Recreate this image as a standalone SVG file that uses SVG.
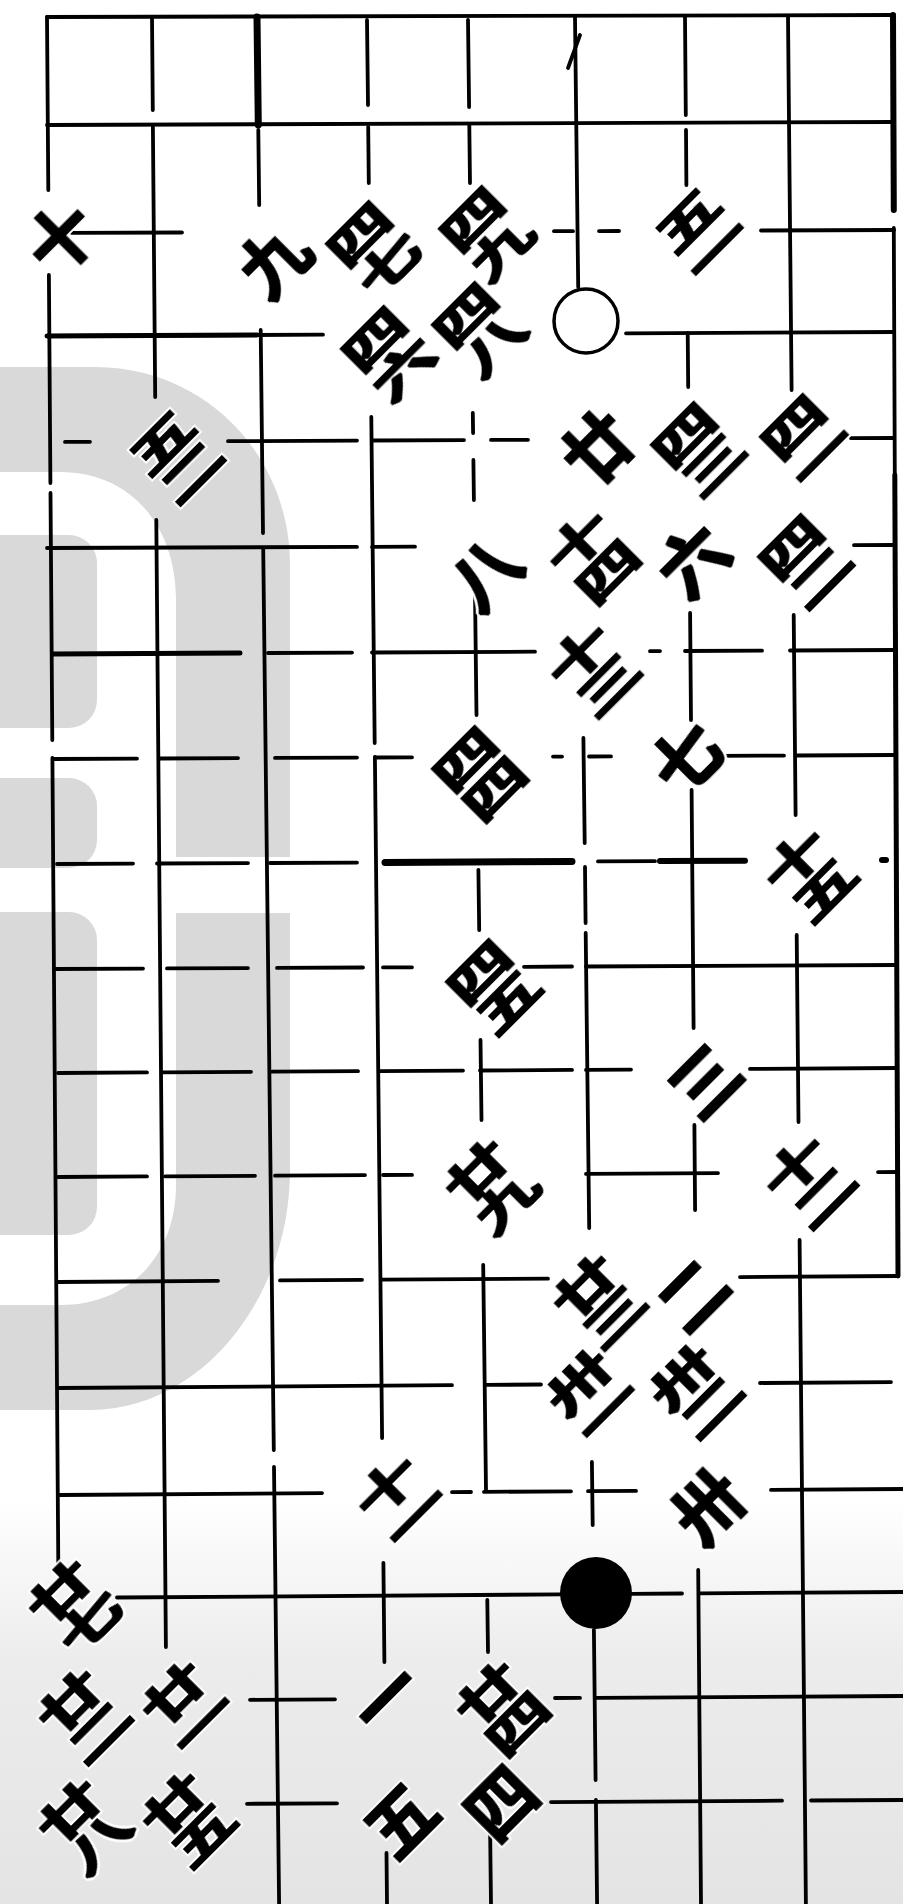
<svg xmlns="http://www.w3.org/2000/svg" width="903" height="1904" viewBox="0 0 903 1904">
<defs>
<linearGradient id="fog" x1="0" y1="0" x2="0" y2="1">
<stop offset="0" stop-color="#ececec" stop-opacity="0"/>
<stop offset="0.4" stop-color="#ececec" stop-opacity="1"/>
<stop offset="1" stop-color="#e4e4e4" stop-opacity="1"/>
</linearGradient>
<filter id="ink" x="-30%" y="-30%" width="160%" height="160%" color-interpolation-filters="sRGB">
<feMorphology in="SourceAlpha" operator="dilate" radius="3.5" result="h"/>
<feFlood flood-color="#fff"/>
<feComposite in2="h" operator="in" result="wh"/>
<feMorphology in="SourceAlpha" operator="dilate" radius="1.3" result="t"/>
<feFlood flood-color="#000"/>
<feComposite in2="t" operator="in" result="bk"/>
<feMerge><feMergeNode in="wh"/><feMergeNode in="bk"/></feMerge>
</filter>
</defs>
<style>
.g line{stroke:#000;stroke-width:3.8;stroke-linecap:round}
.g .t7{stroke-width:7}
.g .t6{stroke-width:6}
.g .t5{stroke-width:5}
.lb{filter:url(#ink)}
.n{font-family:"Noto Sans CJK SC","Noto Sans CJK JP",sans-serif;font-weight:700;font-size:72px;text-anchor:middle;dominant-baseline:central;fill:#000}
.s{font-size:68px}
.wm{fill:#d9d9d9}
</style>
<rect width="903" height="1904" fill="#fff"/>
<rect x="0" y="1500" width="903" height="404" fill="url(#fog)"/>
<g id="watermark">
<path class="wm" fill-rule="evenodd" d="M0,367 H95 C205,367 290,455 290,565 V1170 C290,1300 200,1410 90,1410 H0 Z M0,472 H60 C130,472 176,525 176,600 V1185 C176,1255 130,1305 60,1305 H0 Z"/>
<rect class="wm" x="-30" y="535" width="127" height="193" rx="28"/>
<rect class="wm" x="-30" y="778" width="127" height="90" rx="28"/>
<rect class="wm" x="-30" y="912" width="127" height="323" rx="28"/>
<rect x="174" y="857" width="120" height="56" fill="#fff"/>
</g>
<g id="grid" class="g">
<line x1="47" y1="17" x2="48.3" y2="190"/>
<line x1="48.9" y1="275" x2="50.4" y2="483"/>
<line x1="50.5" y1="493" x2="52.3" y2="740"/>
<line x1="52.4" y1="758" x2="58.3" y2="1565"/>
<line x1="152" y1="17" x2="152.8" y2="110"/>
<line x1="152.9" y1="127" x2="155.2" y2="397"/>
<line x1="156.3" y1="520" x2="165.9" y2="1647"/>
<line class="t7" x1="257" y1="17" x2="258.3" y2="125"/>
<line x1="258.3" y1="130" x2="259.2" y2="205"/>
<line x1="260.7" y1="330" x2="263" y2="533"/>
<line x1="263.2" y1="548" x2="273.8" y2="1450"/>
<line x1="274" y1="1467" x2="279.1" y2="1904"/>
<line x1="367" y1="20" x2="368" y2="105"/>
<line x1="368.2" y1="127" x2="368.8" y2="183"/>
<line x1="371.3" y1="417" x2="374.7" y2="743"/>
<line x1="374.9" y1="757" x2="382.1" y2="1438"/>
<line x1="383.4" y1="1563" x2="384.4" y2="1662"/>
<line x1="386.5" y1="1853" x2="387" y2="1904"/>
<line x1="468" y1="20" x2="469.1" y2="107"/>
<line x1="469.3" y1="125" x2="470" y2="183"/>
<line x1="472.8" y1="413" x2="473.1" y2="433"/>
<line x1="473.4" y1="460" x2="473.9" y2="500"/>
<line x1="475" y1="593" x2="476.5" y2="715"/>
<line x1="478.4" y1="870" x2="479.2" y2="930"/>
<line x1="480.5" y1="1040" x2="481.5" y2="1120"/>
<line x1="483.2" y1="1265" x2="486" y2="1490"/>
<line x1="487.3" y1="1600" x2="488" y2="1652"/>
<line x1="490.1" y1="1830" x2="491" y2="1904"/>
<line x1="575" y1="17" x2="578.2" y2="287"/>
<line x1="583.4" y1="738" x2="584.7" y2="843"/>
<line x1="585" y1="867" x2="585.6" y2="923"/>
<line x1="585.7" y1="933" x2="589.2" y2="1228"/>
<line x1="591.9" y1="1462" x2="592.7" y2="1525"/>
<line x1="593.9" y1="1630" x2="595.6" y2="1780"/>
<line x1="595.9" y1="1800" x2="597.1" y2="1904"/>
<line x1="685" y1="17" x2="685.8" y2="115"/>
<line x1="686" y1="130" x2="686.4" y2="185"/>
<line x1="687.7" y1="333" x2="688.2" y2="387"/>
<line x1="690.1" y1="613" x2="691" y2="720"/>
<line x1="691.6" y1="790" x2="693.6" y2="1028"/>
<line x1="694.4" y1="1125" x2="695.1" y2="1210"/>
<line x1="698.2" y1="1570" x2="701" y2="1904"/>
<line x1="788" y1="17" x2="791.6" y2="390"/>
<line x1="793.7" y1="615" x2="795.6" y2="815"/>
<line x1="796.7" y1="935" x2="798.5" y2="1122"/>
<line x1="799.6" y1="1240" x2="805.9" y2="1904"/>
<line class="t6" x1="893" y1="15" x2="893.8" y2="210"/>
<line x1="893.8" y1="228" x2="894.8" y2="475"/>
<line class="t5" x1="894.8" y1="475" x2="898" y2="1276"/>
<line x1="47" y1="17" x2="894" y2="15"/>
<line x1="47" y1="125" x2="893" y2="122"/>
<line x1="72" y1="232.9" x2="182" y2="232.5"/>
<line x1="554" y1="231.2" x2="573" y2="231.2"/>
<line x1="599" y1="231.1" x2="619" y2="231"/>
<line x1="761" y1="230.5" x2="894" y2="230"/>
<line x1="47" y1="336" x2="323" y2="334.7"/>
<line class="t5" x1="47" y1="336" x2="257" y2="335"/>
<line x1="626" y1="333.3" x2="894" y2="332"/>
<line x1="65" y1="441.9" x2="90" y2="441.8"/>
<line x1="228" y1="441.2" x2="357" y2="440.6"/>
<line x1="372" y1="440.5" x2="464" y2="440.1"/>
<line x1="491" y1="439.9" x2="528" y2="439.8"/>
<line x1="851" y1="438.2" x2="894" y2="438"/>
<line x1="47" y1="548" x2="357" y2="546.9"/>
<line x1="372" y1="546.9" x2="415" y2="546.7"/>
<line x1="854" y1="545.2" x2="894" y2="545"/>
<line class="t5" x1="53" y1="654" x2="240" y2="653.1"/>
<line x1="268" y1="653" x2="352" y2="652.6"/>
<line x1="372" y1="652.5" x2="535" y2="651.7"/>
<line x1="650" y1="651.2" x2="660" y2="651.1"/>
<line x1="685" y1="651" x2="762" y2="650.7"/>
<line x1="790" y1="650.5" x2="894" y2="650"/>
<line x1="53" y1="759" x2="137" y2="758.6"/>
<line x1="160" y1="758.5" x2="238" y2="758.1"/>
<line x1="275" y1="757.9" x2="357" y2="757.6"/>
<line x1="375" y1="757.5" x2="412" y2="757.3"/>
<line x1="553" y1="756.6" x2="562" y2="756.6"/>
<line x1="589" y1="756.5" x2="611" y2="756.4"/>
<line x1="718" y1="755.9" x2="784" y2="755.6"/>
<line x1="797" y1="755.5" x2="894" y2="755"/>
<line x1="57" y1="864" x2="133" y2="863.6"/>
<line x1="157" y1="863.5" x2="248" y2="863.1"/>
<line x1="270" y1="863" x2="357" y2="862.6"/>
<line class="t7" x1="385" y1="862.4" x2="572" y2="861.5"/>
<line x1="598" y1="861.4" x2="655" y2="861.2"/>
<line class="t6" x1="660" y1="861.1" x2="745" y2="860.7"/>
<line class="t6" x1="882" y1="860" x2="886" y2="860"/>
<line x1="55" y1="969" x2="143" y2="968.6"/>
<line x1="167" y1="968.4" x2="248" y2="968.1"/>
<line x1="277" y1="967.9" x2="363" y2="967.5"/>
<line x1="383" y1="967.4" x2="412" y2="967.3"/>
<line x1="524" y1="966.8" x2="572" y2="966.5"/>
<line x1="586" y1="966.5" x2="897" y2="965"/>
<line x1="58" y1="1073" x2="147" y2="1072.4"/>
<line x1="163" y1="1072.3" x2="251" y2="1071.8"/>
<line x1="272" y1="1071.7" x2="358" y2="1071.2"/>
<line x1="380" y1="1071.1" x2="463" y2="1070.6"/>
<line x1="480" y1="1070.5" x2="572" y2="1069.9"/>
<line x1="586" y1="1069.9" x2="631" y2="1069.6"/>
<line x1="750" y1="1068.9" x2="897" y2="1068"/>
<line x1="58" y1="1177" x2="147" y2="1176.4"/>
<line x1="165" y1="1176.3" x2="255" y2="1175.8"/>
<line x1="275" y1="1175.7" x2="365" y2="1175.1"/>
<line x1="383" y1="1175" x2="412" y2="1174.9"/>
<line x1="586" y1="1173.9" x2="718" y2="1173.1"/>
<line x1="878" y1="1172.1" x2="898" y2="1172"/>
<line x1="58" y1="1282" x2="218" y2="1280.8"/>
<line x1="280" y1="1280.4" x2="362" y2="1279.8"/>
<line x1="382" y1="1279.7" x2="548" y2="1278.7"/>
<line x1="740" y1="1277.1" x2="898" y2="1276"/>
<line x1="58" y1="1388" x2="452" y2="1385.2"/>
<line x1="486" y1="1384.9" x2="541" y2="1384.5"/>
<line x1="760" y1="1383" x2="891" y2="1382.1"/>
<line x1="60" y1="1495" x2="322" y2="1493.1"/>
<line x1="452" y1="1492.2" x2="471" y2="1492"/>
<line x1="484" y1="1491.9" x2="571" y2="1491.3"/>
<line x1="588" y1="1491.2" x2="636" y2="1490.9"/>
<line x1="771" y1="1489.9" x2="903" y2="1489"/>
<line x1="117" y1="1597.5" x2="561" y2="1594.4"/>
<line x1="631" y1="1593.9" x2="682" y2="1593.5"/>
<line x1="700" y1="1593.4" x2="903" y2="1592"/>
<line x1="250" y1="1699.8" x2="335" y2="1699.3"/>
<line x1="555" y1="1698" x2="580" y2="1697.9"/>
<line x1="596" y1="1697.8" x2="903" y2="1696"/>
<line x1="247" y1="1803.8" x2="337" y2="1803.3"/>
<line x1="551" y1="1802.1" x2="782" y2="1800.7"/>
<line x1="811" y1="1800.5" x2="903" y2="1800"/>
<line x1="580" y1="35" x2="568" y2="68"/>
</g>
<g id="stones">
<circle id="white-stone" cx="586" cy="321" r="32" fill="#fff" stroke="#000" stroke-width="3.5"/>
<circle id="black-stone" cx="596" cy="1593" r="36" fill="#000"/>
</g>
<g id="labels">
<g id="L-c0r2" class="lb" transform="translate(58,235) rotate(-45)"><text class="n s">十</text></g>
<g id="L-c2r2" class="lb" transform="translate(271,257) rotate(-45)"><text class="n s">九</text></g>
<g id="L-c3r2" class="lb" transform="translate(372,247) rotate(-45)"><text class="n" transform="translate(0,-21) scale(1,0.6)">四</text><text class="n" transform="translate(0,21) scale(1,0.6)">七</text></g>
<g id="L-c4r2" class="lb" transform="translate(485,232) rotate(-45)"><text class="n" transform="translate(0,-21) scale(1,0.6)">四</text><text class="n" transform="translate(0,21) scale(1,0.6)">九</text></g>
<g id="L-c3r3" class="lb" transform="translate(387,352) rotate(-45)"><text class="n" transform="translate(0,-21) scale(1,0.6)">四</text><text class="n" transform="translate(0,21) scale(1,0.6)">六</text></g>
<g id="L-c4r3" class="lb" transform="translate(478,328) rotate(-45)"><text class="n" transform="translate(0,-21) scale(1,0.6)">四</text><text class="n" transform="translate(0,21) scale(1,0.6)">八</text></g>
<g id="L-c6r2" class="lb" transform="translate(701,233) rotate(-45)"><text class="n" transform="translate(0,-21) scale(1,0.6)">五</text><text class="n" transform="translate(0,21) scale(1,0.6)">一</text></g>
<g id="L-c1r4" class="lb" transform="translate(175,455) rotate(-45)"><text class="n" transform="translate(0,-21) scale(1,0.6)">五</text><text class="n" transform="translate(0,21) scale(1,0.6)">二</text></g>
<g id="L-c5r4" class="lb" transform="translate(595,445) rotate(-45)"><text class="n s">廿</text></g>
<g id="L-c6r4" class="lb" transform="translate(697,448) rotate(-45)"><text class="n" transform="translate(0,-21) scale(1,0.6)">四</text><text class="n" transform="translate(0,21) scale(1,0.6)">三</text></g>
<g id="L-c7r4" class="lb" transform="translate(806,440) rotate(-45)"><text class="n" transform="translate(0,-21) scale(1,0.6)">四</text><text class="n" transform="translate(0,21) scale(1,0.6)">一</text></g>
<g id="L-c4r5" class="lb" transform="translate(482,570) rotate(-45)"><text class="n s">八</text></g>
<g id="L-c5r5" class="lb" transform="translate(591,555) rotate(-45)"><text class="n" transform="translate(0,-21) scale(1,0.6)">十</text><text class="n" transform="translate(0,21) scale(1,0.6)">四</text></g>
<g id="L-c6r5" class="lb" transform="translate(690,557) rotate(-45)"><text class="n s">六</text></g>
<g id="L-c7r5" class="lb" transform="translate(804,560) rotate(-45)"><text class="n" transform="translate(0,-21) scale(1,0.6)">四</text><text class="n" transform="translate(0,21) scale(1,0.6)">二</text></g>
<g id="L-c5r6" class="lb" transform="translate(592,668) rotate(-45)"><text class="n" transform="translate(0,-21) scale(1,0.6)">十</text><text class="n" transform="translate(0,21) scale(1,0.6)">三</text></g>
<g id="L-c4r7" class="lb" transform="translate(478,772) rotate(-45)"><text class="n" transform="translate(0,-21) scale(1,0.6)">四</text><text class="n" transform="translate(0,21) scale(1,0.6)">四</text></g>
<g id="L-c6r7" class="lb" transform="translate(683,755) rotate(-45)"><text class="n s">七</text></g>
<g id="L-c7r8" class="lb" transform="translate(808,873) rotate(-45)"><text class="n" transform="translate(0,-21) scale(1,0.6)">十</text><text class="n" transform="translate(0,21) scale(1,0.6)">五</text></g>
<g id="L-c4r9" class="lb" transform="translate(492,985) rotate(-45)"><text class="n" transform="translate(0,-21) scale(1,0.6)">四</text><text class="n" transform="translate(0,21) scale(1,0.6)">五</text></g>
<g id="L-c6r10" class="lb" transform="translate(702,1078) rotate(-45)"><text class="n s">三</text></g>
<g id="L-c7r11" class="lb" transform="translate(808,1180) rotate(-45)"><text class="n" transform="translate(0,-21) scale(1,0.6)">十</text><text class="n" transform="translate(0,21) scale(1,0.6)">二</text></g>
<g id="L-c4r11" class="lb" transform="translate(490,1185) rotate(-45)"><text class="n" transform="translate(0,-21) scale(1,0.6)">廿</text><text class="n" transform="translate(0,21) scale(1,0.6)">九</text></g>
<g id="L-c5r12" class="lb" transform="translate(598,1300) rotate(-45)"><text class="n" transform="translate(0,-21) scale(1,0.6)">廿</text><text class="n" transform="translate(0,21) scale(1,0.6)">三</text></g>
<g id="L-c6r12" class="lb" transform="translate(690,1292) rotate(-45)"><text class="n s">二</text></g>
<g id="L-c5r13" class="lb" transform="translate(592,1395) rotate(-45)"><text class="n" transform="translate(0,-21) scale(1,0.6)">卅</text><text class="n" transform="translate(0,21) scale(1,0.6)">一</text></g>
<g id="L-c6r13" class="lb" transform="translate(695,1390) rotate(-45)"><text class="n" transform="translate(0,-21) scale(1,0.6)">卅</text><text class="n" transform="translate(0,21) scale(1,0.6)">二</text></g>
<g id="L-c6r14" class="lb" transform="translate(705,1503) rotate(-45)"><text class="n s">卅</text></g>
<g id="L-c3r14" class="lb" transform="translate(400,1500) rotate(-45)"><text class="n" transform="translate(0,-21) scale(1,0.6)">十</text><text class="n" transform="translate(0,21) scale(1,0.6)">一</text></g>
<g id="L-c0r15" class="lb" transform="translate(73,1605) rotate(-45)"><text class="n" transform="translate(0,-21) scale(1,0.6)">廿</text><text class="n" transform="translate(0,21) scale(1,0.6)">七</text></g>
<g id="L-c0r16" class="lb" transform="translate(83,1715) rotate(-45)"><text class="n" transform="translate(0,-21) scale(1,0.6)">廿</text><text class="n" transform="translate(0,21) scale(1,0.6)">二</text></g>
<g id="L-c0r17" class="lb" transform="translate(83,1825) rotate(-45)"><text class="n" transform="translate(0,-21) scale(1,0.6)">廿</text><text class="n" transform="translate(0,21) scale(1,0.6)">八</text></g>
<g id="L-c1r16" class="lb" transform="translate(187,1707) rotate(-45)"><text class="n" transform="translate(0,-21) scale(1,0.6)">廿</text><text class="n" transform="translate(0,21) scale(1,0.6)">一</text></g>
<g id="L-c1r17" class="lb" transform="translate(187,1818) rotate(-45)"><text class="n" transform="translate(0,-21) scale(1,0.6)">廿</text><text class="n" transform="translate(0,21) scale(1,0.6)">五</text></g>
<g id="L-c3r16" class="lb" transform="translate(383,1695) rotate(-45)"><text class="n s">一</text></g>
<g id="L-c3r17" class="lb" transform="translate(398,1817) rotate(-45)"><text class="n s">五</text></g>
<g id="L-c4r16" class="lb" transform="translate(501,1707) rotate(-45)"><text class="n" transform="translate(0,-21) scale(1,0.6)">廿</text><text class="n" transform="translate(0,21) scale(1,0.6)">四</text></g>
<g id="L-c4r17" class="lb" transform="translate(498,1800) rotate(-45)"><text class="n s">四</text></g>
</g>
</svg>
